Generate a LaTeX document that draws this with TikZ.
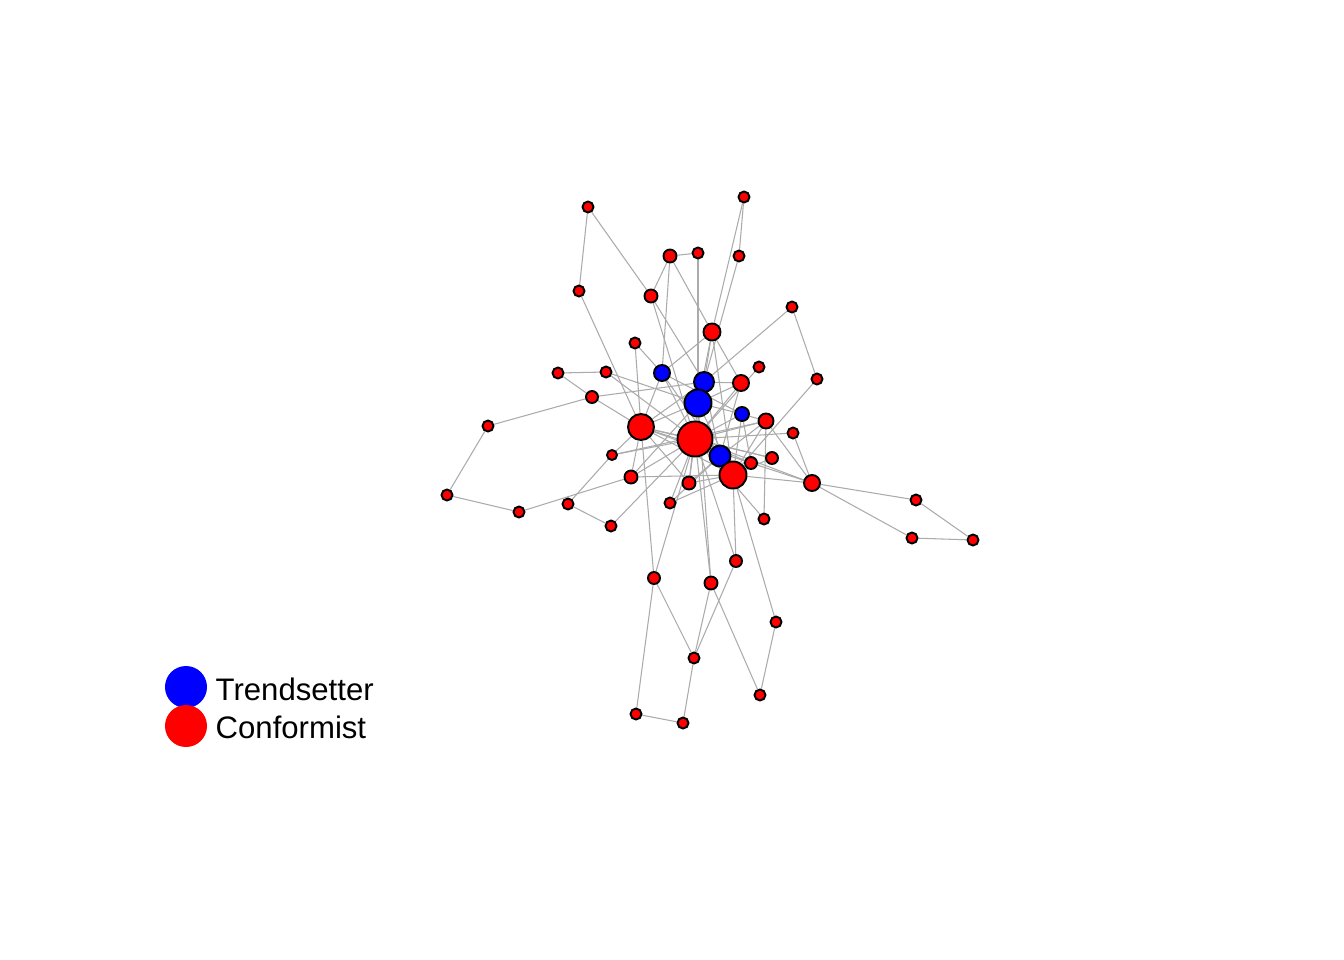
\documentclass[tikz,border=0pt]{standalone}
\usepackage{fontspec}
\setmainfont{Liberation Sans}
\usepackage{tikz}
\usetikzlibrary{backgrounds}
\tikzset{conf/.style={circle, draw=black, fill=red, line width=0.55pt, inner sep=0pt, minimum size={#1*0.2845pt}},
  trend/.style={conf=#1, fill=blue},
  netedge/.style={draw=black!33, line width=0.3pt},
  keydot/.style={circle, fill=#1, inner sep=0pt, minimum size={42*0.2845pt}}}

\begin{document}
\begin{tikzpicture}[x=0.01cm, y=-0.01cm]
\useasboundingbox (0,0) rectangle (1344,960);
\node[conf=11] (v1) at (588,207) {};
\node[conf=11] (v2) at (744,197) {};
\node[conf=13] (v3) at (670,256) {};
\node[conf=11] (v4) at (698,253) {};
\node[conf=11] (v5) at (739,256) {};
\node[conf=11] (v6) at (579,291) {};
\node[conf=13] (v7) at (651,296) {};
\node[conf=11] (v8) at (792,307) {};
\node[conf=17] (v9) at (712,332) {};
\node[conf=11] (v10) at (635,343) {};
\node[conf=11] (v11) at (558,373) {};
\node[conf=11] (v12) at (606,372) {};
\node[trend=16] (v13) at (662,373) {};
\node[trend=20] (v14) at (704,382) {};
\node[conf=16] (v15) at (741,383) {};
\node[conf=11] (v16) at (759,367) {};
\node[conf=11] (v17) at (817,379) {};
\node[conf=12] (v18) at (592,397) {};
\node[trend=27] (v19) at (698,403) {};
\node[trend=14] (v20) at (742,414) {};
\node[conf=11] (v21) at (488,426) {};
\node[conf=26] (v22) at (641,427) {};
\node[conf=15] (v23) at (766,421) {};
\node[conf=35] (v24) at (695,439) {};
\node[conf=11] (v25) at (793,433) {};
\node[conf=10] (v26) at (612,455) {};
\node[trend=21] (v27) at (720,456) {};
\node[conf=12] (v28) at (772,458) {};
\node[conf=12] (v29) at (751,463) {};
\node[conf=27] (v30) at (733,475) {};
\node[conf=13] (v31) at (631,477) {};
\node[conf=13] (v32) at (689,483) {};
\node[conf=16] (v33) at (812,483) {};
\node[conf=11] (v34) at (447,495) {};
\node[conf=11] (v35) at (519,512) {};
\node[conf=11] (v36) at (568,504) {};
\node[conf=11] (v37) at (670,503) {};
\node[conf=11] (v38) at (611,526) {};
\node[conf=11] (v39) at (764,519) {};
\node[conf=11] (v40) at (916,500) {};
\node[conf=11] (v41) at (912,538) {};
\node[conf=11] (v42) at (973,540) {};
\node[conf=12] (v43) at (736,561) {};
\node[conf=12] (v44) at (654,578) {};
\node[conf=13] (v45) at (711,583) {};
\node[conf=11] (v46) at (776,622) {};
\node[conf=11] (v47) at (694,658) {};
\node[conf=11] (v48) at (760,695) {};
\node[conf=11] (v49) at (636,714) {};
\node[conf=11] (v50) at (683,723) {};
% edges behind the vertices
\begin{scope}[on background layer]
\foreach \a/\b in {1/6, 1/7, 6/22, 3/4, 3/7, 3/9, 3/13, 4/19, 2/5, 2/9, 5/14, 7/14, 7/24,
  9/13, 9/15, 8/17, 8/14, 10/13, 10/22, 11/12, 11/18, 12/19, 12/24, 18/21, 21/34, 34/35,
  35/31, 36/26, 36/38, 38/24, 26/23, 26/22, 18/22, 18/14, 44/22, 44/24, 44/47, 44/49,
  49/50, 50/47, 47/43, 47/45, 45/48, 45/19, 45/24, 43/30, 43/24, 46/30, 46/48, 39/23,
  39/24, 17/30, 25/33, 25/24, 33/40, 33/41, 40/42, 41/42, 33/23, 33/30, 33/24, 33/29, 16/24,
  9/24, 9/19, 9/30, 13/24, 13/22, 13/27, 13/20, 14/24, 14/19, 14/27, 14/22, 14/15,
  19/22, 19/20, 19/30, 19/31, 19/32, 20/23, 20/24, 20/29, 20/30, 15/24, 15/27, 15/19,
  22/24, 22/27, 22/31, 22/32, 22/30, 23/24, 23/27, 23/30, 24/27, 24/30, 24/31, 24/32,
  24/26, 24/37, 24/29, 24/28, 27/30, 27/32, 27/37, 28/30, 28/22, 29/30, 29/22, 30/32,
  30/37, 30/31}
  \draw[netedge] (v\a) -- (v\b);
\end{scope}
% key
\node[keydot=blue] (kt) at (186,687) {};
\node[keydot=red] (kc) at (186,726) {};
\node[anchor=base west, inner sep=0pt, font=\fontsize{8.85}{10}\selectfont] (lt) at (215,700) {Trendsetter};
\node[anchor=base west, inner sep=0pt, font=\fontsize{8.85}{10}\selectfont] (lc) at (215,738) {Conformist};
\end{tikzpicture}
\end{document}
